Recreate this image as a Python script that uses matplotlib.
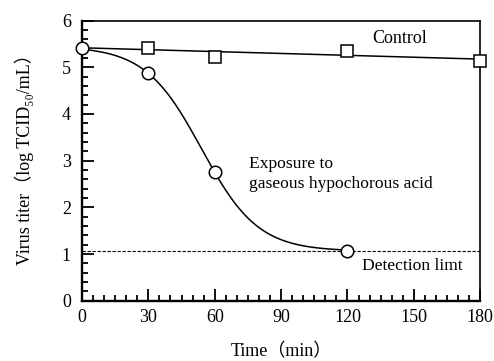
import numpy as np
import matplotlib
matplotlib.use("Agg")
import matplotlib.pyplot as plt
from matplotlib.ticker import MultipleLocator

plt.rcParams['font.family'] = ['Liberation Serif', 'Noto Sans CJK JP']

# data
time_control = [0, 30, 60, 120, 180]
titer_control = [5.42, 5.42, 5.23, 5.35, 5.14]
time_hocl = [0, 30, 60, 120]
titer_hocl = [5.42, 4.87, 2.75, 1.07]
detection_limit = 1.07

fig = plt.figure(figsize=(4.94, 3.61), dpi=100)
ax = fig.add_axes([0.166, 0.167, 0.806, 0.776])

# control: straight regression line
slope, icpt = np.polyfit(time_control, titer_control, 1)
xs = np.linspace(0, 180, 200)
ax.plot(xs, icpt + slope * xs, color='black', lw=1.1, zorder=2)
ax.plot(time_control[1:], titer_control[1:], ls='none', marker='s', ms=8.5,
        mfc='white', mec='black', mew=1.1, zorder=3, clip_on=False)

# exposure: logistic curve between start value and detection limit
top, bot = titer_hocl[0] + 0.03, detection_limit - 0.01
t_mid = np.array(time_hocl[1:3], float)
frac = (np.array(titer_hocl[1:3]) - bot) / (top - bot)
k, b = np.polyfit(t_mid, np.log(frac / (1 - frac)), 1)
xc = np.linspace(0, 120, 300)
yc = bot + (top - bot) / (1 + np.exp(-(k * xc + b)))
ax.plot(xc, yc, color='black', lw=1.1, zorder=2)
ax.plot(time_hocl, titer_hocl, ls='none', marker='o', ms=9,
        mfc='white', mec='black', mew=1.1, zorder=4, clip_on=False)

ax.plot([0, 180], [detection_limit, detection_limit], color='black',
        lw=0.8, ls=(0, (3, 1.5)), zorder=1)

ax.set_xlim(0, 180)
ax.set_ylim(0, 6)
ax.xaxis.set_major_locator(MultipleLocator(30))
ax.xaxis.set_minor_locator(MultipleLocator(5))
ax.yaxis.set_major_locator(MultipleLocator(1))
ax.yaxis.set_minor_locator(MultipleLocator(0.2))
ax.tick_params(which='both', direction='in', top=False, right=False,
               labelsize=13, width=1.3)
ax.tick_params(which='major', length=8.5)
ax.tick_params(which='minor', length=4.5)
ax.tick_params(axis='y', which='major', pad=8)
ax.tick_params(axis='x', which='major', pad=6)
for side in ['left', 'bottom']:
    ax.spines[side].set_linewidth(1.7)
for side in ['top', 'right']:
    ax.spines[side].set_linewidth(1.2)

ax.text(131, 5.61, 'Control', fontsize=13, va='center')
ax.text(75.5, 2.71, 'Exposure to\ngaseous hypochorous acid', fontsize=12.6,
        va='center', linespacing=1.3)
ax.text(126.5, 0.74, 'Detection limt', fontsize=12.6, va='center')

ax.set_xlabel('Time（min）', fontsize=13, va='center')
ax.set_ylabel('Virus titer（log TCID₅₀/mL）', fontsize=13, va='center')
ax.xaxis.set_label_coords(0.5, -0.183)
ax.yaxis.set_label_coords(-0.146, 0.52)

fig.savefig('out.png', dpi=100)
